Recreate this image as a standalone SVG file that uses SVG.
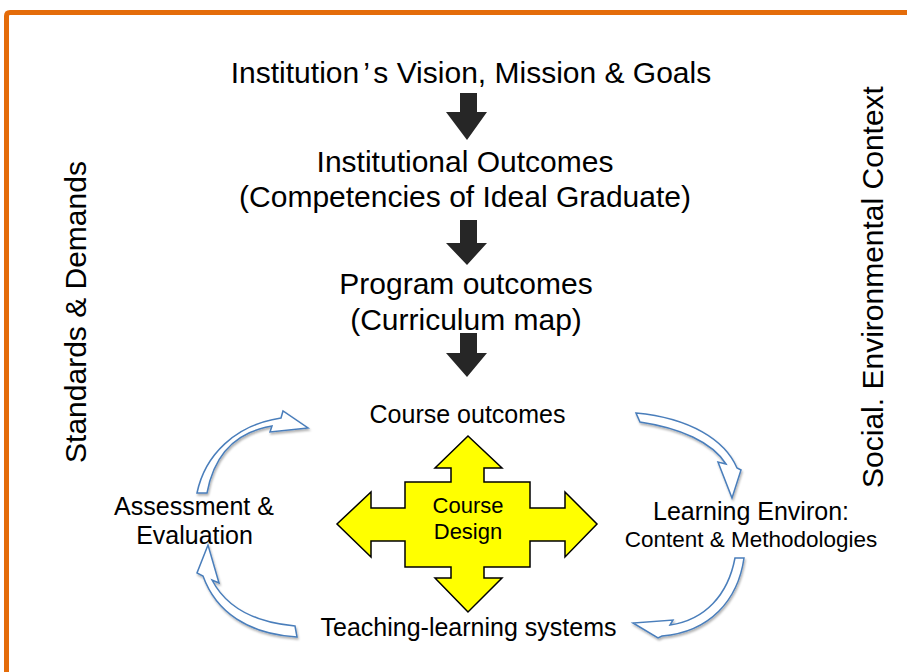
<svg xmlns="http://www.w3.org/2000/svg" width="907" height="672" viewBox="0 0 907 672">
<defs>
<style>
text{font-family:"Liberation Sans",Arial,sans-serif;fill:#000;text-anchor:middle}
.big{font-size:30px}
.med{font-size:25px}
.sm{font-size:22.5px}
.cd{font-size:22px}
.blk{fill:#262626}
.curve{fill:#fff;stroke:#4a7ebb;stroke-width:1.5;stroke-linejoin:miter;filter:url(#sh)}
</style>
<filter id="sh" x="-20%" y="-20%" width="140%" height="140%">
<feDropShadow dx="1" dy="2" stdDeviation="1.2" flood-color="#000" flood-opacity="0.3"/>
</filter>
</defs>
<rect width="907" height="672" fill="#fff"/>
<g id="frame">
<path d="M6.5,672 V16 Q6.5,12.5 10,12.5 H907" fill="none" stroke="#e46c0a" stroke-width="5"/>
</g>
<g id="n-vision"><text class="big" x="471" y="83">Institution<tspan dx="4">’</tspan><tspan dx="4">s Vision, Mission &amp; Goals</tspan></text></g>
<g id="n-inst"><text class="big" x="465" y="172">Institutional Outcomes</text><text class="big" x="465" y="207">(Competencies of Ideal Graduate)</text></g>
<g id="n-prog"><text class="big" x="466" y="294">Program outcomes</text><text class="big" x="466" y="330">(Curriculum map)</text></g>
<g id="n-course"><text class="med" x="467.5" y="423">Course outcomes</text></g>
<g id="n-assess"><text class="med" x="194" y="515">Assessment &amp;</text><text class="med" x="194.5" y="544">Evaluation</text></g>
<g id="n-learn"><text class="med" x="751" y="520">Learning Environ:</text><text class="sm" x="751" y="547">Content &amp; Methodologies</text></g>
<g id="n-teach"><text class="med" x="468.5" y="636">Teaching-learning systems</text></g>
<g id="n-standards"><text class="big" transform="translate(86,312) rotate(-90)">Standards &amp; Demands</text></g>
<g id="n-social"><text class="big" transform="translate(883,287) rotate(-90)">Social. Environmental Context</text></g>
<g id="n-design">
<path d="M468,436 L502,468 L484,468 L484,482 L530,482 L530,508 L565,508 L565,492 L597,524 L565,557 L565,541 L530,541 L530,567 L484,567 L484,578 L502,578 L468,612 L435,578 L451,578 L451,567 L405,567 L405,541 L371,541 L371,557 L337,524 L371,492 L371,508 L405,508 L405,482 L451,482 L451,468 L435,468 Z" fill="#ffff00" stroke="#000" stroke-width="1.5"/>
<text class="cd" x="468" y="513">Course</text><text class="cd" x="468" y="539">Design</text>
</g>
<g id="connectors">
<path class="blk" d="M460,93 H477 V112 H487 L467,140 L446,112 H460 Z"/>
<path class="blk" d="M460,220 H477 V243 H487 L467,265 L446,243 H460 Z"/>
<path class="blk" d="M460,333 H477 V353 H487 L467,377 L446,353 H460 Z"/>
<path class="curve" d="M197,493 C205,455 235,425 281,418 L283,411 L308,428 L270,432 L272,426 C236,432 214,455 207,493 Z"/>
<path class="curve" d="M636,413 C690,418 725,440 737,468 L741,470 L732,498 L718,462 L726,464 C712,442 680,428 640,422 Z"/>
<path class="curve" d="M744,558 C738,600 710,632 662,636 L658,638 L633,623 L673,620 L670,625 C705,620 728,595 735,558 Z"/>
<path class="curve" d="M295,626 C250,622 225,605 212,580 L219,583 L208,545 L197,573 L203,576 C216,612 248,634 297,637 Z"/>
</g>
</svg>
